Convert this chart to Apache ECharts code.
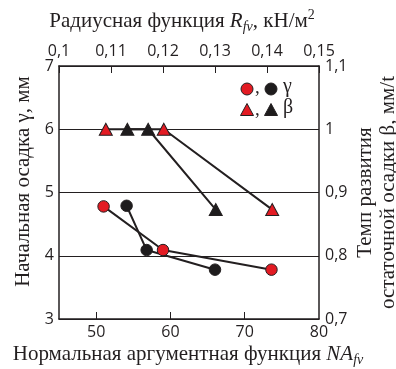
<!DOCTYPE html>
<html><head><meta charset="utf-8">
<script src="https://cdn.jsdelivr.net/npm/echarts@6/dist/echarts.min.js"></script>
<style>html,body{margin:0;padding:0;background:#fff}#c{width:396px;height:369px}</style>
</head><body><div id="c"></div>
<script>
// NA_fv (bottom axis) positions and values
const redGammaX = [51.0, 59.0, 73.6];
const redGammaY = [4.78, 4.09, 3.78];
const blackGammaX = [54.1, 56.8, 66.0];
const blackGammaY = [4.79, 4.09, 3.78];
const redBetaX = [51.3, 59.1, 73.7];
const redBetaY = [1.0, 1.0, 0.873];
const blackBetaX = [54.2, 57.0, 66.1];
const blackBetaY = [1.0, 1.0, 0.873];
const bottomTicks = [50, 60, 70, 80];

const RED = '#e31b23', BLACK = '#1e1c1d', LINE = '#231f20';
const pairs = (xs, ys) => xs.map((x, i) => [x, ys[i]]);
const fmt = v => String(parseFloat(v.toFixed(3))).replace('.', ',');
const tickFont = {fontFamily: 'Open Sans', fontSize: 16, color: '#231f20'};
const serif = 'Liberation Serif';
const FS = 21;
const rich = {
  n: {fontFamily: serif, fontSize: FS, color: '#231f20', lineHeight: 26},
  i: {fontFamily: serif, fontSize: FS, fontStyle: 'italic', color: '#231f20', lineHeight: 26},
  s: {fontFamily: serif, fontSize: 14, fontStyle: 'italic', color: '#231f20', lineHeight: 16, verticalAlign: 'bottom'},
  p: {fontFamily: serif, fontSize: 14, color: '#231f20', lineHeight: 16, verticalAlign: 'top'}
};
const axLine = {show: true, lineStyle: {color: '#231f20', width: 1.5}};

function lineSeries(xs, ys, yIdx) {
  return {type: 'line', xAxisIndex: 0, yAxisIndex: yIdx, data: pairs(xs, ys), symbol: 'none',
    lineStyle: {color: LINE, width: 2}, z: 2, silent: true};
}
function markSeries(xs, ys, yIdx, color, sym) {
  return {type: 'scatter', xAxisIndex: 0, yAxisIndex: yIdx, data: pairs(xs, ys), symbol: sym,
    symbolSize: sym === 'circle' ? 11.5 : [13, 12],
    itemStyle: {color: color, borderColor: '#231f20', borderWidth: 1, opacity: 1}, z: 5};
}

const chart = echarts.init(document.getElementById('c'));
chart.setOption({
  animation: false,
  grid: {left: 59, right: 77, top: 66, bottom: 50, containLabel: false, outerBoundsMode: 'none'},
  xAxis: [
    {type: 'value', position: 'bottom', min: 45, max: 80,
      axisLine: axLine, splitLine: {show: false},
      axisTick: {show: true, inside: true, length: 7, customValues: bottomTicks.slice(0, 3), lineStyle: {color: '#231f20', width: 1}},
      axisLabel: Object.assign({margin: 5, customValues: bottomTicks, formatter: fmt}, tickFont),
      name: '{n|Нормальная аргументная функция }{i|NA}{s|fv}', nameLocation: 'middle', nameGap: 22,
      nameMoveOverlap: false,
      nameTextStyle: {rich: rich, padding: [0, 2, 0, 0]}},
    {type: 'value', position: 'top', min: 0.1, max: 0.15, interval: 0.01,
      axisLine: axLine, splitLine: {show: false},
      axisTick: {show: true, inside: true, length: 7, lineStyle: {color: '#231f20', width: 1}},
      axisLabel: Object.assign({margin: 7, showMinLabel: true, showMaxLabel: true, formatter: fmt}, tickFont),
      name: '{n|Радиусная функция }{i|R}{s|fv}{n|, кН/м}{p|2}', nameLocation: 'middle', nameGap: 32,
      nameMoveOverlap: false,
      nameTextStyle: {rich: rich, padding: [0, 14, 0, 0]}}
  ],
  yAxis: [
    {type: 'value', position: 'left', min: 3, max: 7, interval: 1,
      axisLine: axLine, axisTick: {show: false},
      splitLine: {show: true, lineStyle: {color: '#231f20', width: 1}},
      axisLabel: Object.assign({margin: 5, formatter: fmt}, tickFont),
      name: 'Начальная осадка γ, мм', nameLocation: 'middle', nameGap: 25, nameRotate: 90,
      nameMoveOverlap: false,
      nameTextStyle: {fontFamily: serif, fontSize: FS, color: '#231f20', padding: [0, 0, 0, 22]}},
    {type: 'value', position: 'right', min: 0.7, max: 1.1, interval: 0.1,
      axisLine: axLine, axisTick: {show: false}, splitLine: {show: false},
      axisLabel: Object.assign({margin: 6, formatter: fmt}, tickFont),
      name: 'Темп развития\nостаточной осадки β, мм/t', nameLocation: 'middle', nameGap: 35, nameRotate: 90,
      nameMoveOverlap: false,
      nameTextStyle: {fontFamily: serif, fontSize: FS, color: '#231f20', lineHeight: 23}}
  ],
  series: [
    lineSeries(redGammaX, redGammaY, 0),
    lineSeries(blackGammaX, blackGammaY, 0),
    lineSeries(redBetaX, redBetaY, 1),
    lineSeries(blackBetaX, blackBetaY, 1),
    markSeries(redGammaX, redGammaY, 0, RED, 'circle'),
    markSeries(blackGammaX, blackGammaY, 0, BLACK, 'circle'),
    markSeries(redBetaX, redBetaY, 1, RED, 'triangle'),
    markSeries(blackBetaX, blackBetaY, 1, BLACK, 'triangle')
  ],
  graphic: [
    {type: 'circle', shape: {cx: 247, cy: 89, r: 6}, style: {fill: RED, stroke: '#231f20', lineWidth: 1}},
    {type: 'text', x: 255, y: 79, style: {text: ',', font: '19px Liberation Serif', fill: '#231f20'}},
    {type: 'circle', shape: {cx: 271, cy: 89, r: 6}, style: {fill: BLACK, stroke: '#231f20', lineWidth: 1}},
    {type: 'text', x: 283, y: 77, style: {text: 'γ', font: '20px Liberation Serif', fill: '#231f20'}},
    {type: 'polygon', shape: {points: [[247, 103.5], [240.5, 115.5], [253.5, 115.5]]}, style: {fill: RED, stroke: '#231f20', lineWidth: 1}},
    {type: 'text', x: 255, y: 101, style: {text: ',', font: '19px Liberation Serif', fill: '#231f20'}},
    {type: 'polygon', shape: {points: [[271, 103.5], [264.5, 115.5], [277.5, 115.5]]}, style: {fill: BLACK, stroke: '#231f20', lineWidth: 1}},
    {type: 'text', x: 283, y: 98, style: {text: 'β', font: '20px Liberation Serif', fill: '#231f20'}}
  ]
});
</script></body></html>
